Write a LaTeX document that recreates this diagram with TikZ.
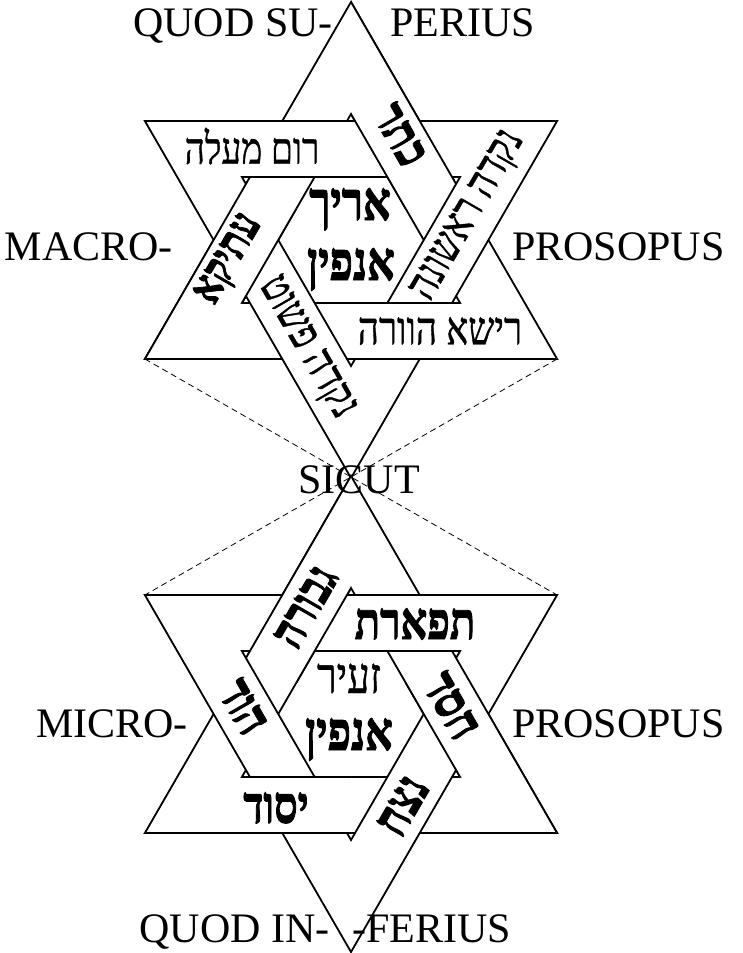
\documentclass[tikz,border=0pt]{standalone}
\usepackage{fontspec}
\setmainfont{Liberation Serif}
\newfontfamily\hebR[Script=Hebrew,FakeStretch=0.8,FakeBold=0.8]{Liberation Serif}
\newfontfamily\hebB[Script=Hebrew,FakeStretch=0.8,FakeBold=1.6]{Liberation Serif Bold}
\TeXXeTstate=1
\newcommand{\hr}[1]{\hebR\beginR #1\endR}
\newcommand{\hb}[1]{\hebB\beginR #1\endR}
\newcommand{\mystar}{%
  \path[band] (-90:238) -- (30:238) -- (150:238) -- cycle
              (-90:126) -- (30:126) -- (150:126) -- cycle;
  \path[band] (90:238) -- (210:238) -- (330:238) -- cycle
              (90:126) -- (210:126) -- (330:126) -- cycle;
  \foreach \a in {-60,60,180}{%
    \begin{scope}
      \clip (0,0) -- (\a-30:400) -- (\a+30:400) -- cycle;
      \path[band] (-90:238) -- (30:238) -- (150:238) -- cycle
                  (-90:126) -- (30:126) -- (150:126) -- cycle;
    \end{scope}}%
}
\begin{document}
\begin{tikzpicture}[x=1pt,y=-1pt,
  band/.style={fill=white,draw=black,line width=1.8pt,even odd rule,line join=miter},
  lat/.style={font=\fontsize{42}{42}\selectfont,inner sep=0pt},
  hs/.style={font=\fontsize{#1}{#1}\selectfont,inner sep=0pt},
  dsh/.style={dash pattern=on 6pt off 4pt,line width=0.8pt}]
\useasboundingbox (0,0) rectangle (742,953);
% corner coordinates for the dashed connectors
\coordinate (uBL) at (144.9,359);
\coordinate (uBR) at (557.1,359);
\coordinate (lTL) at (144.9,595);
\coordinate (lTR) at (557.1,595);
\draw[dsh] (uBL) -- (lTR);
\draw[dsh] (uBR) -- (lTL);
% the two interlaced hexagrams
\begin{scope}[shift={(351,240)}]
  \mystar
\end{scope}
\begin{scope}[shift={(351,714)},xscale=-1]
  \mystar
\end{scope}
% Latin labels
\node[lat,anchor=base east] (qsu) at (333,36) {QUOD SU-};
\node[lat,anchor=base west] (per) at (390,36) {PERIUS};
\node[lat,anchor=base east] (mac) at (173,260) {MACRO-};
\node[lat,anchor=base west] (pro1) at (512,260) {PROSOPUS};
\node[lat,anchor=base] (sic) at (359,493) {SICUT};
\node[lat,anchor=base east] (mic) at (188,737) {MICRO-};
\node[lat,anchor=base west] (pro2) at (512,737) {PROSOPUS};
\node[lat,anchor=base east] (qin) at (330,942) {QUOD IN-};
\node[lat,anchor=base west] (fer) at (352,942) {-FERIUS};
% upper star Hebrew
\node[hs=44] (rum) at (252,146) {\hr{רום מעלה}};
\node[hs=46] (rei) at (440,331) {\hr{רישא הוורה}};
\node[hs=54,anchor=base] (ar1) at (350,220) {\hb{אריך}};
\node[hs=54,anchor=base] (ar2) at (351,280) {\hb{אנפין}};
\node[hs=50,rotate=-60] (ket) at (400,135) {\hb{כתר}};
\node[hs=46,rotate=60] (nr) at (469,216) {\hr{נקדה ראשונה}};
\node[hs=46,rotate=60] (ati) at (230,260) {\hb{עתיקא}};
\node[hs=46,rotate=-60] (np) at (306,348) {\hr{נקדה פשוט}};
% lower star Hebrew
\node[hs=52] (tif) at (415,624) {\hb{תפארת}};
\node[hs=50,anchor=base] (zei) at (349,693) {\hr{זעיר}};
\node[hs=54,anchor=base] (anp) at (349,750) {\hb{אנפין}};
\node[hs=52] (yes) at (276,808) {\hb{יסוד}};
\node[hs=50,rotate=60] (gev) at (306,607) {\hb{גבורה}};
\node[hs=52,rotate=-60] (hod) at (243,707) {\hb{הוד}};
\node[hs=52,rotate=-60] (hes) at (451,706) {\hb{חסד}};
\node[hs=52,rotate=60] (net) at (403,806) {\hb{נצח}};
\end{tikzpicture}
\end{document}
